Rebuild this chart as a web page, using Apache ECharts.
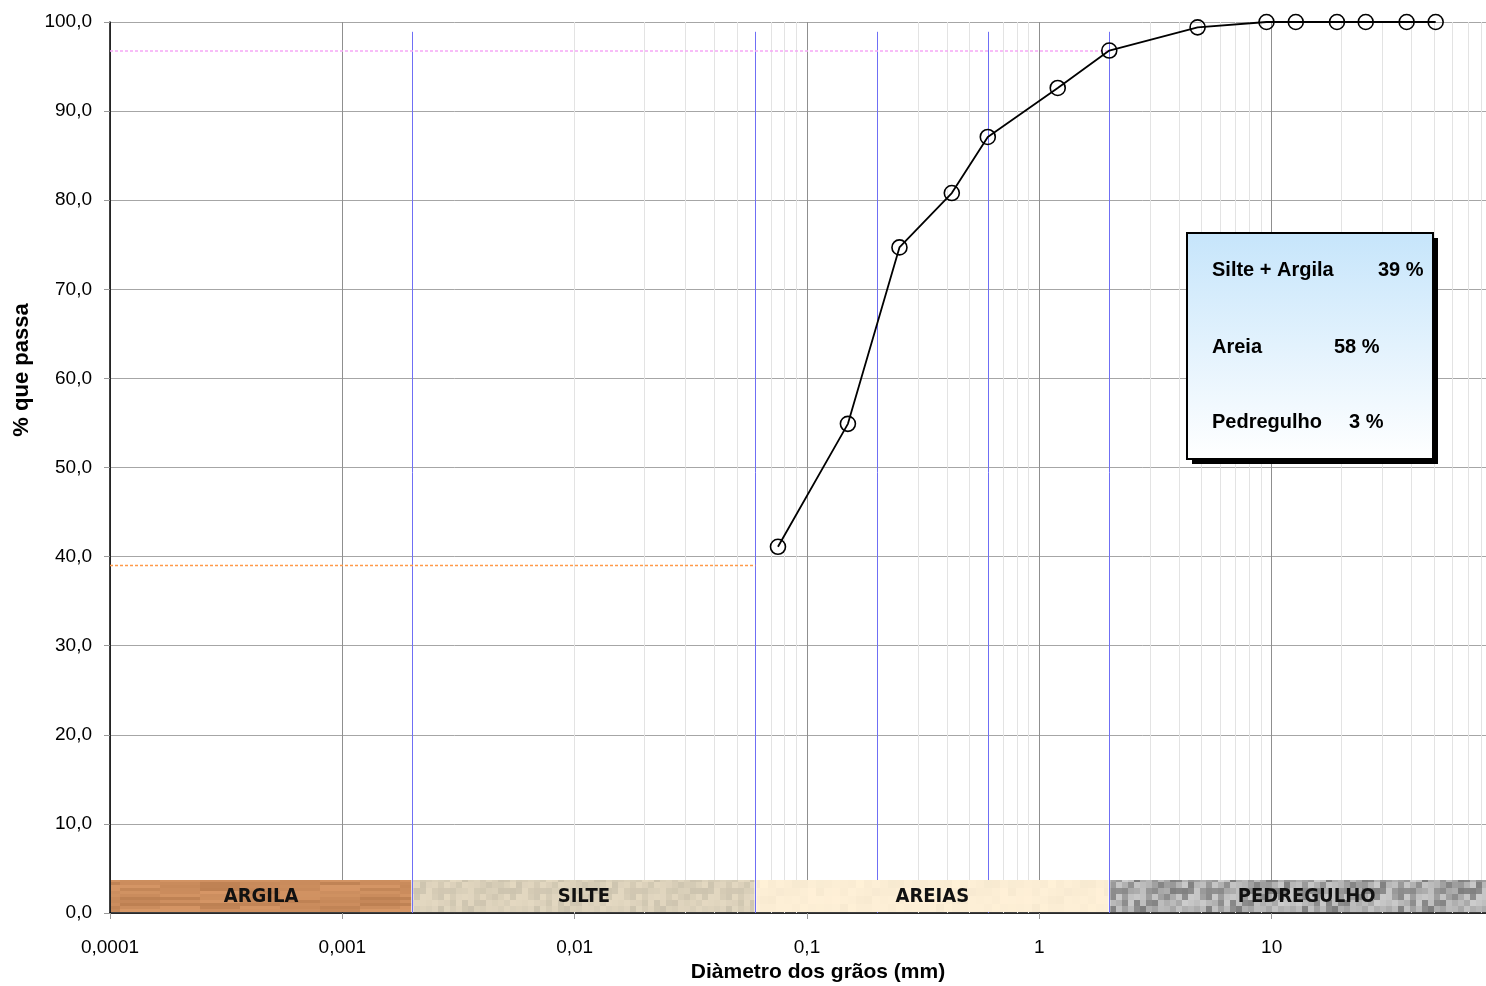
<!DOCTYPE html>
<html>
<head>
<meta charset="utf-8">
<script src="https://cdn.jsdelivr.net/npm/echarts@6/dist/echarts.min.js"></script>
<style>
  html, body { margin: 0; padding: 0; background: #fff; }
  #chart { width: 1486px; height: 986px; }
</style>
</head>
<body>
<div id="chart"></div>
<script>
// ---- data ----
const sieveSizes = [50.8, 38.1, 25.4, 19.1, 12.7, 9.5, 4.8, 2.0, 1.2, 0.6, 0.42, 0.25, 0.15, 0.075];
const percentPassing = [100, 100, 100, 100, 100, 100, 99.4, 96.8, 92.6, 87.1, 80.8, 74.7, 54.9, 41.1];
const xTickLabels = ['0,0001', '0,001', '0,01', '0,1', '1', '10', ''];
const yTickLabels = ['0,0', '10,0', '20,0', '30,0', '40,0', '50,0', '60,0', '70,0', '80,0', '90,0', '100,0'];
const classNames = ['ARGILA', 'SILTE', 'AREIAS', 'PEDREGULHO'];
const classLimits = [0.0001, 0.002, 0.06, 2.0, 100];
const classColors = ['#c98a5b', '#d9cfb8', '#fbeed6', '#a6a6a6'];
const classBandTop = 3.7;
const boundaryLines = [0.002, 0.06, 0.2, 0.6, 2.0];
const boundaryTop = 98.9;
const finesPercent = 39;       // passing at 0.06 mm
const passingAt2mm = 96.8;     // passing at 2 mm
const summaryLabels = ['Silte + Argila', 'Areia', 'Pedregulho'];
const summaryValues = ['39 %', '58 %', '3 %'];

// ---- build ----
const chart = echarts.init(document.getElementById('chart'));
const FONT = '"Liberation Sans", Arial, sans-serif';
const NARROW = '"Liberation Sans Narrow", "DejaVu Sans Condensed", sans-serif';

// decorative texture tiles for the soil bands (deterministic hash, not data)
function hash(a, b) {
  const s = Math.sin(a * 127.1 + b * 311.7) * 43758.5453;
  return s - Math.floor(s);
}
function makeTile(rgb, amp, cw, ch, cols, rows, grey) {
  const c = document.createElement('canvas');
  c.width = cw * cols; c.height = ch * rows;
  const g = c.getContext('2d');
  for (let j = 0; j < rows; j++) {
    for (let i = 0; i < cols; i++) {
      const d = (hash(i + 1, j + 1) - 0.5) * amp;
      const r = Math.max(0, Math.min(255, Math.round(rgb[0] + d)));
      const gg = Math.max(0, Math.min(255, Math.round(rgb[1] + (grey ? d : d * 0.9))));
      const b = Math.max(0, Math.min(255, Math.round(rgb[2] + (grey ? d : d * 0.8))));
      g.fillStyle = 'rgb(' + r + ',' + gg + ',' + b + ')';
      g.fillRect(i * cw, j * ch, cw, ch);
    }
  }
  return c;
}
const bandFills = [
  { image: makeTile([201, 139, 92], 26, 40, 3, 6, 11, false), repeat: 'repeat' },
  { image: makeTile([216, 206, 184], 24, 6, 6, 16, 6, false), repeat: 'repeat' },
  { image: makeTile([251, 237, 212], 8, 8, 8, 12, 4, false), repeat: 'repeat' },
  { image: makeTile([165, 165, 165], 80, 6, 6, 16, 6, true), repeat: 'repeat' }
];

const minorGrid = [];
for (let e = -4; e <= 1; e++) {
  for (let m = 2; m <= 9; m++) {
    const v = m * Math.pow(10, e);
    if (!boundaryLines.some(b => Math.abs(b - v) / b < 1e-6)) minorGrid.push({ xAxis: v });
  }
}
const boundaryData = boundaryLines.map(b => [{ coord: [b, 0] }, { coord: [b, boundaryTop] }]);
const bandRows = classNames.map((name, i) => [classLimits[i], classLimits[i + 1], classBandTop, i]);

const option = {
  animation: false,
  backgroundColor: '#fff',
  grid: { left: 110, top: 22, right: -18, bottom: 73, containLabel: false, outerBoundsMode: 'none' },
  xAxis: {
    type: 'log', logBase: 10, min: 0.0001, max: 100,
    axisLine: { show: true, lineStyle: { color: '#000', width: 1.5 } },
    axisTick: { show: true, length: 6, lineStyle: { color: '#999' } },
    axisLabel: {
      color: '#000', fontSize: 19, fontFamily: FONT, margin: 25,
      formatter: v => xTickLabels[Math.round(Math.log10(v)) + 4]
    },
    splitLine: { show: true, lineStyle: { color: '#8f8f8f', width: 1 } }
  },
  yAxis: {
    type: 'value', min: 0, max: 100, interval: 10,
    axisLine: { show: true, lineStyle: { color: '#000', width: 1.5 } },
    axisTick: { show: true, length: 6, lineStyle: { color: '#999' } },
    axisLabel: {
      color: '#000', fontSize: 19, fontFamily: FONT, margin: 18,
      formatter: v => yTickLabels[Math.round(v / 10)]
    },
    splitLine: { show: true, lineStyle: { color: '#a6a6a6', width: 1 } }
  },
  series: [
    {
      type: 'line', data: [], silent: true, z: 1,
      markLine: {
        silent: true, symbol: 'none', animation: false,
        label: { show: false },
        lineStyle: { color: '#e3e3e3', width: 1, type: 'solid' },
        data: minorGrid
      }
    },
    {
      type: 'line', data: [], silent: true, z: 2,
      markLine: {
        silent: true, symbol: 'none', animation: false,
        label: { show: false },
        lineStyle: { color: '#6f6ff5', width: 1, type: 'solid' },
        data: boundaryData
      }
    },
    {
      type: 'line', data: [], silent: true, z: 2,
      markLine: {
        silent: true, symbol: 'none', animation: false,
        label: { show: false },
        lineStyle: { color: '#f6a8f6', width: 1.5, type: [3, 2] },
        data: [[{ coord: [classLimits[0], passingAt2mm] }, { coord: [classLimits[3], passingAt2mm] }]]
      }
    },
    {
      type: 'line', data: [], silent: true, z: 2,
      markLine: {
        silent: true, symbol: 'none', animation: false,
        label: { show: false },
        lineStyle: { color: '#ff9a4a', width: 1.3, type: [3, 2] },
        data: [[{ coord: [classLimits[0], finesPercent] }, { coord: [classLimits[2], finesPercent] }]]
      }
    },
    {
      type: 'custom', z: 5, silent: true,
      data: bandRows,
      encode: { x: [0, 1], y: 2 },
      renderItem: (params, api) => {
        const p0 = api.coord([api.value(0), api.value(2)]);
        const p1 = api.coord([api.value(1), 0]);
        const i = api.value(3);
        const w = p1[0] - p0[0] - 2;
        const h = p1[1] - p0[1] - 1;
        return {
          type: 'group',
          children: [
            { type: 'rect', shape: { x: p0[0] + 1, y: p0[1], width: w, height: h }, style: { fill: bandFills[i] } },
            {
              type: 'text',
              style: {
                text: classNames[i], x: p0[0] + 1 + w / 2, y: p0[1] + h / 2 + 1,
                textAlign: 'center', textVerticalAlign: 'middle',
                font: 'bold 20px ' + NARROW, fill: '#111'
              }
            }
          ]
        };
      }
    },
    {
      type: 'line', z: 10,
      data: sieveSizes.map((s, i) => [s, percentPassing[i]]),
      symbol: 'circle', symbolSize: 15,
      lineStyle: { color: '#000', width: 1.8 },
      itemStyle: { color: 'rgba(0,0,0,0)', borderColor: '#000', borderWidth: 1.6 }
    }
  ],
  graphic: [
    {
      type: 'text', x: 818, y: 972,
      style: {
        text: 'Diàmetro dos grãos (mm)', x: 0, y: 0,
        textAlign: 'center', textVerticalAlign: 'middle',
        font: 'bold 21px ' + FONT, fill: '#000'
      }
    },
    {
      type: 'text', x: 22, y: 370, rotation: Math.PI / 2,
      style: {
        text: '% que passa', x: 0, y: 0,
        textAlign: 'center', textVerticalAlign: 'middle',
        font: 'bold 22px ' + FONT, fill: '#000'
      }
    },
    {
      type: 'group', x: 1187, y: 233, zlevel: 1,
      children: [
        { type: 'rect', z: 100, shape: { x: 5, y: 5, width: 246, height: 226 }, style: { fill: '#000' } },
        {
          type: 'rect', z: 101, shape: { x: 0, y: 0, width: 246, height: 226 },
          style: {
            fill: new echarts.graphic.LinearGradient(0, 0, 0, 1, [
              { offset: 0, color: '#c6e5fb' }, { offset: 1, color: '#ffffff' }
            ]),
            stroke: '#000', lineWidth: 2
          }
        },
        { type: 'text', z: 102, style: { text: summaryLabels[0], x: 25, y: 37, textVerticalAlign: 'middle', font: 'bold 20px ' + FONT, fill: '#000' } },
        { type: 'text', z: 102, style: { text: summaryValues[0], x: 191, y: 37, textVerticalAlign: 'middle', font: 'bold 20px ' + FONT, fill: '#000' } },
        { type: 'text', z: 102, style: { text: summaryLabels[1], x: 25, y: 114, textVerticalAlign: 'middle', font: 'bold 20px ' + FONT, fill: '#000' } },
        { type: 'text', z: 102, style: { text: summaryValues[1], x: 147, y: 114, textVerticalAlign: 'middle', font: 'bold 20px ' + FONT, fill: '#000' } },
        { type: 'text', z: 102, style: { text: summaryLabels[2], x: 25, y: 189, textVerticalAlign: 'middle', font: 'bold 20px ' + FONT, fill: '#000' } },
        { type: 'text', z: 102, style: { text: summaryValues[2], x: 162, y: 189, textVerticalAlign: 'middle', font: 'bold 20px ' + FONT, fill: '#000' } }
      ]
    }
  ]
};
chart.setOption(option);
</script>
</body>
</html>
